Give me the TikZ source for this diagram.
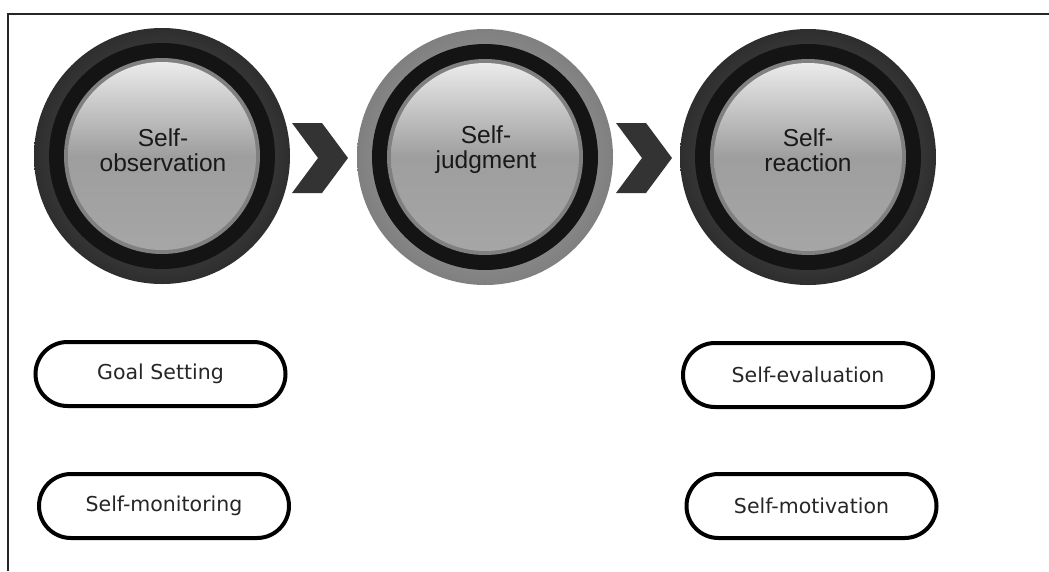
\documentclass[tikz,border=0pt]{standalone}
\usepackage{fontspec}
\setmainfont{Liberation Sans}
\newfontfamily\pillfont{DejaVu Sans}
\tikzset{
  outerdisc/.style={circle, minimum size=256pt, inner sep=0pt},
  circtext/.style={align=center, font=\fontsize{24.5}{25}\selectfont, text=black!90},
  pill/.style={draw=black, line width=4pt, rounded corners=32pt, minimum width=250pt,
    minimum height=64pt, font=\pillfont\fontsize{20.5}{22}\selectfont, text=black!85},
  chev/.style={fill=black!80},
  frameline/.style={line width=2pt, black!85}
}
\newcommand{\ringdisc}[1]{%
  \fill[black!92] (#1) circle[radius=113pt];
  \fill[black!50] (#1) circle[radius=98pt];
  \shade[top color=black!8, bottom color=black!35, middle color=black!38] (#1) circle[radius=94pt];
}
\begin{document}
\begin{tikzpicture}[x=1pt,y=-1pt]
\useasboundingbox (0,0) rectangle (1049,571);
\fill[white] (0,0) rectangle (1049,571);
\draw[frameline] (8,571) -- (8,14) -- (1049,14);

% circles
\node[outerdisc, shading=radial, inner color=black!60, outer color=black!82] (c1) at (162,156) {};
\ringdisc{c1.center}
\node[outerdisc, shading=radial, inner color=black!30, outer color=black!50] (c2) at (485,157) {};
\ringdisc{c2.center}
\node[outerdisc, shading=radial, inner color=black!60, outer color=black!82] (c3) at (808,157) {};
\ringdisc{c3.center}

\node[circtext] (t1) at (163,150) {Self-\\observation};
\node[circtext] (t2) at (486,150) {Self-\\judgment};
\node[circtext] (t3) at (808,150) {Self-\\reaction};

% chevrons
\coordinate (k1) at (292,123);
\coordinate (k2) at (616,123);
\fill[chev] (k1) -- ++(30,0) -- ++(26,35) -- ++(-26,35) -- ++(-30,0) -- ++(26,-35) -- cycle;
\fill[chev] (k2) -- ++(30,0) -- ++(26,35) -- ++(-26,35) -- ++(-30,0) -- ++(26,-35) -- cycle;

% pills
\node[pill] (gs) at (160.5,374) {Goal Setting};
\node[pill] (sm) at (164,506) {Self-monitoring};
\node[pill] (se) at (808,375) {Self-evaluation};
\node[pill] (smo) at (811.5,506) {Self-motivation};
\end{tikzpicture}
\end{document}
